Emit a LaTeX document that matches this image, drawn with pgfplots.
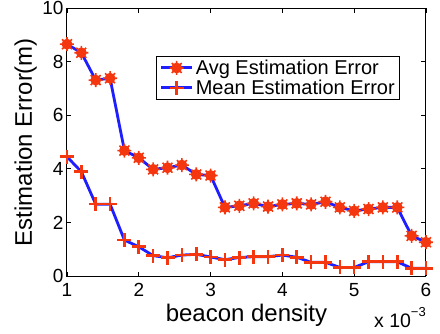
\documentclass[border=0pt]{standalone}
\usepackage{fontspec}
\setmainfont{Liberation Sans}
\usepackage{pgfplots}
\pgfplotsset{compat=1.18}
\definecolor{mk}{RGB}{245,55,15}
\definecolor{ln}{RGB}{30,30,255}
\pgfdeclareplotmark{gearstar}{%
  \pgfpathcircle{\pgfpointorigin}{0.78\pgfplotmarksize}\pgfusepathqfill
  \pgfsetlinewidth{1.6pt}%
  \pgfpathmoveto{\pgfpoint{-\pgfplotmarksize}{0pt}}\pgfpathlineto{\pgfpoint{\pgfplotmarksize}{0pt}}%
  \pgfpathmoveto{\pgfpoint{0pt}{-\pgfplotmarksize}}\pgfpathlineto{\pgfpoint{0pt}{\pgfplotmarksize}}%
  \pgfpathmoveto{\pgfpoint{-0.707\pgfplotmarksize}{-0.707\pgfplotmarksize}}\pgfpathlineto{\pgfpoint{0.707\pgfplotmarksize}{0.707\pgfplotmarksize}}%
  \pgfpathmoveto{\pgfpoint{-0.707\pgfplotmarksize}{0.707\pgfplotmarksize}}\pgfpathlineto{\pgfpoint{0.707\pgfplotmarksize}{-0.707\pgfplotmarksize}}%
  \pgfusepathqstroke
}
\begin{document}
\begin{tikzpicture}
\begin{axis}[
  at={(0,0)}, anchor=south west,
  scale only axis, width=359pt, height=268pt,
  xmin=1, xmax=6, ymin=0, ymax=10,
  xtick={1,2,3,4,5,6}, ytick={0,2,4,6,8,10},
  tick align=inside, tick pos=both, major tick length=4.5pt,
  axis line style={line width=1pt}, every tick/.style={line width=0.8pt, black},
  /pgf/number format/assume math mode=true,
  tick label style={font=\fontsize{19}{20}\selectfont},
  xticklabel style={yshift=-4pt},
  xlabel={beacon density}, ylabel={Estimation Error(m)},
  label style={font=\fontsize{24}{26}\selectfont},
  xlabel style={at={(axis description cs:0.5,-0.1716)}, anchor=base},
  ylabel style={at={(axis description cs:-0.0975,0.5)}, anchor=base, rotate=0},
  legend style={at={(rel axis cs:0.248,0.821)}, anchor=north west, draw=black, line width=1pt,
    font=\fontsize{20}{22}\selectfont, inner xsep=3pt, inner ysep=1.5pt, row sep=0pt,
    /tikz/every even column/.append style={column sep=2pt}},
  legend cell align=left,
  legend image code/.code={%
    \draw[line width=3pt, ln] (0cm,0cm) -- (1.1cm,0cm);
    \draw[mark repeat=2,mark phase=2, draw=none] plot coordinates {(0cm,0cm) (0.55cm,0cm) (1.1cm,0cm)};},
]
\addplot[color=ln, line width=2.8pt, mark=gearstar, mark size=7pt, mark options={draw=mk, fill=mk, line width=1.6pt}]
coordinates {
(1.0,8.65) (1.2,8.33) (1.4,7.31) (1.6,7.38) (1.8,4.68) (2.0,4.41) (2.2,3.98) (2.4,4.04) (2.6,4.14) (2.8,3.79) (3.0,3.75)
(3.2,2.56) (3.4,2.62) (3.6,2.71) (3.8,2.59) (4.0,2.67) (4.2,2.71) (4.4,2.67) (4.6,2.77) (4.8,2.56) (5.0,2.43)
(5.2,2.50) (5.4,2.56) (5.6,2.56) (5.8,1.50) (6.0,1.26)
};
\addlegendentry{Avg Estimation Error}
\addplot[color=ln, line width=2.8pt, mark=+, mark size=7pt, mark options={draw=mk, line width=2.6pt}]
coordinates {
(1.0,4.45) (1.2,3.89) (1.4,2.68) (1.6,2.68) (1.8,1.34) (2.0,1.09) (2.2,0.76) (2.4,0.68) (2.6,0.78) (2.8,0.81) (3.0,0.71)
(3.2,0.61) (3.4,0.69) (3.6,0.72) (3.8,0.72) (4.0,0.78) (4.2,0.70) (4.4,0.51) (4.6,0.51) (4.8,0.32) (5.0,0.32)
(5.2,0.53) (5.4,0.53) (5.6,0.53) (5.8,0.29) (6.0,0.29)
};
\addlegendentry{Mean Estimation Error}
\end{axis}
\node[anchor=base east, inner sep=0pt, font=\fontsize{19.5}{20}\selectfont] at (359pt,-51pt) {x 10\raisebox{0.55em}{\fontsize{13}{13}\selectfont −3}};
\pgfresetboundingbox
\path[use as bounding box] (-67pt,-57pt) rectangle (373pt,276pt);
\end{tikzpicture}
\end{document}
